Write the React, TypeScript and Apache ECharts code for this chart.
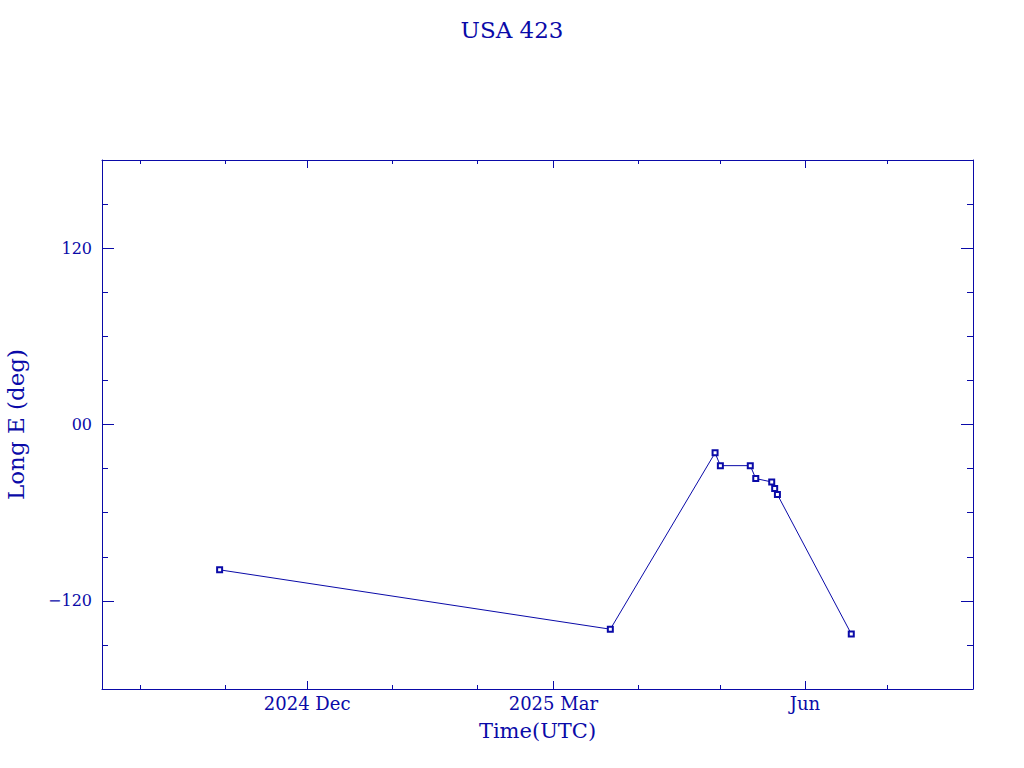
import React, { useEffect, useRef } from "react";
import * as echarts from "echarts";

const title = "USA 423";
const pointTimes = [
  "2024-10-30T00:00:00Z",
  "2025-03-21T20:00:00Z",
  "2025-04-29T03:00:00Z",
  "2025-05-01T01:30:00Z",
  "2025-05-12T00:00:00Z",
  "2025-05-14T00:00:00Z",
  "2025-05-19T20:00:00Z",
  "2025-05-20T22:00:00Z",
  "2025-05-21T22:00:00Z",
  "2025-06-17T22:00:00Z",
];
const longitudes = [-98.9, -139.3, -19.3, -28.0, -28.0, -36.8, -39.1, -43.6, -47.7, -142.5];

const monthTicks = [
  "2024-10-01T00:00:00Z",
  "2024-11-01T00:00:00Z",
  "2024-12-01T00:00:00Z",
  "2025-01-01T00:00:00Z",
  "2025-02-01T00:00:00Z",
  "2025-03-01T00:00:00Z",
  "2025-04-01T00:00:00Z",
  "2025-05-01T00:00:00Z",
  "2025-06-01T00:00:00Z",
  "2025-07-01T00:00:00Z",
];
const xMajorTicks = ["2024-12-01T00:00:00Z", "2025-03-01T00:00:00Z", "2025-06-01T00:00:00Z"];
const xMajorLabels = ["2024 Dec", "2025 Mar", "Jun"];
const yMajorTicks = [-120, 0, 120];
const yMajorLabels = ["\u2212120", "00", "120"];
const xMin = "2024-09-17T00:00:00Z";
const xMax = "2025-08-01T10:00:00Z";
const yMin = -180;
const yMax = 180;

const ts = (s: string) => new Date(s).getTime();
const COLOR = "#0a0aa8";
const FONT = "DejaVu Serif";

export default function App() {
  const ref = useRef<HTMLDivElement>(null);
  useEffect(() => {
    document.body.style.margin = "0";
    const chart = echarts.init(ref.current!, null, { renderer: "svg" });
    const gridPos = { left: 102, right: 51, top: 160, bottom: 79, containLabel: false, outerBoundsMode: "none" };
    const line = { show: true, onZero: false, lineStyle: { color: COLOR, width: 1 } };
    const noLine = { show: false, onZero: false };
    const minorX = (position: string, gridIndex: number) => ({
      type: "value",
      gridIndex,
      position,
      min: ts(xMin),
      max: ts(xMax),
      axisLine: line,
      axisTick: { show: true, inside: true, length: 4, lineStyle: { color: COLOR }, customValues: monthTicks.map(ts) },
      axisLabel: { show: false },
      splitLine: { show: false },
    });
    const majorX = (position: string, withLabels: boolean) => ({
      type: "value",
      gridIndex: 1,
      position,
      min: ts(xMin),
      max: ts(xMax),
      axisLine: noLine,
      axisTick: { show: true, inside: true, length: 8, lineStyle: { color: COLOR }, customValues: xMajorTicks.map(ts) },
      axisLabel: withLabels
        ? {
            show: true,
            customValues: xMajorTicks.map(ts),
            color: COLOR,
            fontFamily: FONT,
            fontSize: 18,
            margin: 5,
            formatter: (v: number) => {
              const i = xMajorTicks.map(ts).findIndex((t) => Math.abs(t - v) < 1000);
              return i >= 0 ? xMajorLabels[i] : "";
            },
          }
        : { show: false },
      splitLine: { show: false },
      name: withLabels ? "Time(UTC)" : "",
      nameLocation: "middle",
      nameGap: 31,
      nameTextStyle: { color: COLOR, fontFamily: FONT, fontSize: 21 },
    });
    const minorY = (position: string, gridIndex: number) => ({
      type: "value",
      gridIndex,
      position,
      min: yMin,
      max: yMax,
      interval: 30,
      axisLine: line,
      axisTick: { show: true, inside: true, length: 6, lineStyle: { color: COLOR } },
      axisLabel: { show: false },
      splitLine: { show: false },
    });
    const majorY = (position: string, withLabels: boolean) => ({
      type: "value",
      gridIndex: 1,
      position,
      min: yMin,
      max: yMax,
      axisLine: noLine,
      axisTick: { show: true, inside: true, length: 12, lineStyle: { color: COLOR }, customValues: yMajorTicks },
      axisLabel: withLabels
        ? {
            show: true,
            customValues: yMajorTicks,
            color: COLOR,
            fontFamily: FONT,
            fontSize: 16,
            margin: 10,
            formatter: (v: number) => {
              const i = yMajorTicks.indexOf(Math.round(v));
              return i >= 0 ? yMajorLabels[i] : "";
            },
          }
        : { show: false },
      splitLine: { show: false },
      name: withLabels ? "Long E (deg)" : "",
      nameLocation: "middle",
      nameGap: 75,
      nameTextStyle: { color: COLOR, fontFamily: FONT, fontSize: 23 },
    });
    chart.setOption({
      animation: false,
      backgroundColor: "#ffffff",
      title: {
        text: title,
        left: "center",
        top: 13,
        textStyle: { color: COLOR, fontFamily: FONT, fontSize: 23, fontWeight: "normal" },
      },
      grid: [gridPos, gridPos],
      xAxis: [minorX("bottom", 0), minorX("top", 0), majorX("bottom", true), majorX("top", false)],
      yAxis: [minorY("left", 0), minorY("right", 0), majorY("left", true), majorY("right", false)],
      series: [
        {
          type: "line",
          xAxisIndex: 0,
          yAxisIndex: 0,
          data: pointTimes.map((t, i) => [ts(t), longitudes[i]]),
          symbol: "emptyRect",
          symbolSize: 5,
          showSymbol: true,
          lineStyle: { color: COLOR, width: 1 },
          itemStyle: { color: COLOR, borderColor: COLOR, borderWidth: 1.5 },
        },
      ],
    });
    return () => chart.dispose();
  }, []);
  return <div ref={ref} style={{ width: 1024, height: 768 }} />;
}
